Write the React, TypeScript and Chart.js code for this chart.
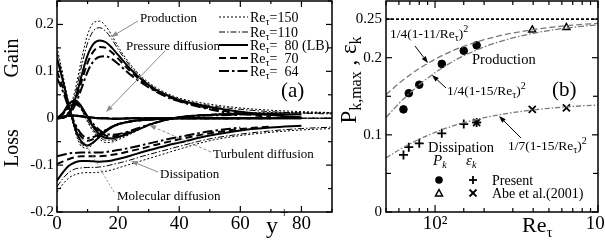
import React, { useEffect, useRef } from "react";
import { Chart, registerables } from "chart.js";

Chart.register(...registerables);

const SERIF = '"Liberation Serif", "Times New Roman", Times, serif';

// ================= Panel (a): TKE budget vs y+ =================
const yPlus = [0, 2, 4, 6, 8, 10, 12, 14, 16, 18, 20, 24, 28, 32, 36, 40, 50, 60, 70, 80, 90];
const reTauCases = ["150", "110", "80", "70", "64"];

const production150 = [0, 0.002, 0.018, 0.062, 0.125, 0.178, 0.204, 0.207, 0.196, 0.176, 0.153, 0.115, 0.087, 0.067, 0.053, 0.043, 0.03, 0.022, 0.017, 0.014, 0.012];
const production110 = [0, 0.002, 0.015, 0.053, 0.11, 0.16, 0.187, 0.193, 0.185, 0.168, 0.147, 0.111, 0.084, 0.064, 0.05, 0.04, 0.027, 0.019, 0.014, 0.011, 0.009];
const production80 = [0, 0.001, 0.012, 0.042, 0.09, 0.134, 0.159, 0.166, 0.162, 0.15, 0.135, 0.105, 0.081, 0.062, 0.049, 0.039, 0.024, 0.014, 0.007, 0.002];
const production70 = [0, 0.001, 0.01, 0.036, 0.078, 0.118, 0.143, 0.152, 0.15, 0.14, 0.127, 0.1, 0.078, 0.06, 0.047, 0.037, 0.021, 0.01, 0.002];
const production64 = [0, 0.001, 0.008, 0.029, 0.063, 0.099, 0.122, 0.131, 0.132, 0.126, 0.116, 0.093, 0.074, 0.058, 0.045, 0.036, 0.019, 0.006];

const dissipation150 = [-0.158, -0.14, -0.127, -0.12, -0.117, -0.116, -0.116, -0.115, -0.113, -0.11, -0.106, -0.098, -0.09, -0.082, -0.074, -0.066, -0.048, -0.037, -0.03, -0.025, -0.022];
const dissipation110 = [-0.146, -0.128, -0.115, -0.108, -0.106, -0.105, -0.105, -0.104, -0.102, -0.099, -0.096, -0.089, -0.081, -0.074, -0.067, -0.06, -0.044, -0.034, -0.027, -0.022, -0.019];
const dissipation80 = [-0.133, -0.115, -0.101, -0.094, -0.091, -0.091, -0.092, -0.093, -0.092, -0.09, -0.087, -0.08, -0.072, -0.065, -0.058, -0.052, -0.037, -0.026, -0.02, -0.016];
const dissipation70 = [-0.098, -0.092, -0.087, -0.083, -0.081, -0.081, -0.081, -0.081, -0.08, -0.078, -0.076, -0.07, -0.064, -0.057, -0.051, -0.045, -0.032, -0.023, -0.018];
const dissipation64 = [-0.081, -0.078, -0.075, -0.074, -0.073, -0.073, -0.073, -0.073, -0.072, -0.07, -0.068, -0.063, -0.057, -0.051, -0.045, -0.04, -0.028, -0.02];

const molecular150 = [0.152, 0.09, 0.025, -0.03, -0.06, -0.064, -0.052, -0.037, -0.025, -0.017, -0.012, -0.006, -0.003, -0.002, -0.001, 0, 0, 0, 0, 0, 0];
const molecular110 = [0.14, 0.084, 0.024, -0.027, -0.055, -0.06, -0.05, -0.037, -0.026, -0.018, -0.012, -0.006, -0.003, -0.002, -0.001, 0, 0, 0, 0, 0, 0];
const molecular80 = [0.128, 0.078, 0.024, -0.022, -0.05, -0.058, -0.051, -0.039, -0.028, -0.019, -0.013, -0.007, -0.004, -0.002, -0.001, 0, 0, 0, 0, 0];
const molecular70 = [0.1, 0.064, 0.021, -0.017, -0.04, -0.048, -0.044, -0.035, -0.026, -0.019, -0.013, -0.007, -0.004, -0.002, -0.001, 0, 0, 0, 0];
const molecular64 = [0.086, 0.056, 0.019, -0.013, -0.034, -0.042, -0.04, -0.033, -0.025, -0.018, -0.013, -0.007, -0.004, -0.002, -0.001, 0, 0, 0];

const turbulent150 = [0, 0.012, 0.032, 0.035, 0.018, -0.008, -0.03, -0.045, -0.052, -0.051, -0.046, -0.034, -0.021, -0.01, -0.003, 0.002, 0.008, 0.011, 0.012, 0.012, 0.012];
const turbulent110 = [0, 0.011, 0.03, 0.033, 0.018, -0.005, -0.026, -0.04, -0.047, -0.047, -0.043, -0.032, -0.02, -0.01, -0.003, 0.002, 0.008, 0.01, 0.011, 0.011, 0.011];
const turbulent80 = [0, 0.012, 0.032, 0.038, 0.025, 0.002, -0.02, -0.035, -0.042, -0.043, -0.04, -0.031, -0.02, -0.01, -0.003, 0.002, 0.007, 0.009, 0.009, 0.008];
const turbulent70 = [0, 0.01, 0.028, 0.033, 0.022, 0.003, -0.016, -0.03, -0.037, -0.039, -0.037, -0.029, -0.019, -0.01, -0.003, 0.002, 0.007, 0.008, 0.008];
const turbulent64 = [0, 0.009, 0.025, 0.03, 0.021, 0.004, -0.013, -0.026, -0.033, -0.035, -0.034, -0.027, -0.018, -0.01, -0.003, 0.002, 0.006, 0.007];

const pressure150 = [0, 0.004, 0.007, 0.007, 0.005, 0.003, 0.001, 0, -0.001, -0.001, -0.001, -0.001, 0, 0, 0, 0, 0, 0, 0, 0, 0];
const pressure110 = [0, 0.004, 0.006, 0.006, 0.005, 0.003, 0.001, 0, -0.001, -0.001, -0.001, -0.001, 0, 0, 0, 0, 0, 0, 0, 0, 0];
const pressure80 = [0, 0.003, 0.006, 0.006, 0.004, 0.002, 0.001, 0, 0, -0.001, -0.001, 0, 0, 0, 0, 0, 0, 0, 0, 0];
const pressure70 = [0, 0.003, 0.005, 0.005, 0.004, 0.002, 0.001, 0, 0, -0.001, -0.001, 0, 0, 0, 0, 0, 0, 0, 0];
const pressure64 = [0, 0.003, 0.005, 0.005, 0.004, 0.002, 0.001, 0, 0, -0.001, -0.001, 0, 0, 0, 0, 0, 0, 0];

// ================= Panel (b): peak production / dissipation vs Re_tau =================
const rePresent = [64, 69, 80, 110, 150, 180];
const pkPresent = [0.133, 0.154, 0.165, 0.192, 0.209, 0.216];
const ekPresent = [0.074, 0.084, 0.089, 0.102, 0.114, 0.116];
const reAbeP = [395, 640];
const pkAbe = [0.236, 0.239];
const reAbeE = [180, 395, 640];
const ekAbe = [0.116, 0.133, 0.135];
const reFit = [50, 60, 70, 80, 100, 120, 150, 200, 250, 300, 400, 500, 600, 700, 800, 1000];
const fitP11 = [0.1521, 0.1667, 0.1776, 0.186, 0.198, 0.2063, 0.2147, 0.2233, 0.2285, 0.232, 0.2364, 0.2391, 0.2409, 0.2422, 0.2432, 0.2445];
const fitP15 = [0.1225, 0.1406, 0.1543, 0.165, 0.1806, 0.1914, 0.2025, 0.2139, 0.2209, 0.2256, 0.2316, 0.2352, 0.2377, 0.2394, 0.2407, 0.2426];
const fitE15 = [0.07, 0.0804, 0.0882, 0.0943, 0.1032, 0.1094, 0.1157, 0.1222, 0.1262, 0.1289, 0.1323, 0.1344, 0.1358, 0.1368, 0.1376, 0.1386];
const reLimit = [50, 1000];
const pkLimit = [0.25, 0.25];

// ---------------- styles ----------------
const caseStyles = [
  { width: 1, dash: [2, 2] },
  { width: 1, dash: [6, 2, 1.5, 2] },
  { width: 2, dash: [] as number[] },
  { width: 2, dash: [7, 4] },
  { width: 2, dash: [10, 3, 2.5, 3] },
];

type Seg = { t: string; s: number; dy?: number; it?: boolean };
const fontOf = (s: Seg) => `${s.it ? "italic " : ""}${s.s}px ${SERIF}`;

function segsWidth(ctx: CanvasRenderingContext2D, segs: Seg[]) {
  let w = 0;
  for (const s of segs) {
    ctx.font = fontOf(s);
    w += ctx.measureText(s.t).width;
  }
  return w;
}
function drawSegs(ctx: CanvasRenderingContext2D, segs: Seg[], x: number, y: number, align: "left" | "center" = "left") {
  ctx.textAlign = "left";
  ctx.textBaseline = "alphabetic";
  let cx = align === "center" ? x - segsWidth(ctx, segs) / 2 : x;
  for (const s of segs) {
    ctx.font = fontOf(s);
    ctx.fillText(s.t, cx, y + (s.dy || 0));
    cx += ctx.measureText(s.t).width;
  }
}
function arrow(
  ctx: CanvasRenderingContext2D,
  x1: number, y1: number, x2: number, y2: number,
  color: string, o: { dash?: number[]; head?: boolean; width?: number; hl?: number; hw?: number } = {}
) {
  ctx.save();
  ctx.strokeStyle = color;
  ctx.fillStyle = color;
  ctx.lineWidth = o.width ?? 1;
  ctx.setLineDash(o.dash ?? []);
  const ang = Math.atan2(y2 - y1, x2 - x1);
  const hl = o.hl ?? 7, hw = o.hw ?? 2.5;
  const head = o.head !== false;
  const bx = x2 - hl * Math.cos(ang), by = y2 - hl * Math.sin(ang);
  ctx.beginPath();
  ctx.moveTo(x1, y1);
  ctx.lineTo(head ? bx : x2, head ? by : y2);
  ctx.stroke();
  if (head) {
    ctx.setLineDash([]);
    ctx.beginPath();
    ctx.moveTo(x2, y2);
    ctx.lineTo(bx + hw * Math.sin(ang), by - hw * Math.cos(ang));
    ctx.lineTo(bx - hw * Math.sin(ang), by + hw * Math.cos(ang));
    ctx.closePath();
    ctx.fill();
  }
  ctx.restore();
}
function seg(ctx: CanvasRenderingContext2D, x1: number, y1: number, x2: number, y2: number) {
  ctx.beginPath();
  ctx.moveTo(x1, y1);
  ctx.lineTo(x2, y2);
  ctx.stroke();
}

// page -> canvas offsets
const A_OFF = { x: 0, y: -20 };
const B_OFF = { x: 330, y: -20 };

const panelAPlugin = {
  id: "panelA",
  afterDraw(chart: any) {
    const { ctx, chartArea: a } = chart;
    const xs = chart.scales.x, ys = chart.scales.y;
    const X = (p: number) => p - A_OFF.x, Y = (p: number) => p - A_OFF.y;
    ctx.save();
    ctx.setLineDash([]);
    ctx.strokeStyle = "#000";
    ctx.lineWidth = 1.5;
    ctx.strokeRect(a.left, a.top, a.right - a.left, a.bottom - a.top);
    ctx.lineWidth = 1.2;
    for (const t of xs.ticks) {
      const major = Math.round(t.value) % 20 === 0;
      const L = major ? 6 : 3;
      const p = xs.getPixelForValue(t.value);
      seg(ctx, p, a.bottom, p, a.bottom - L);
      seg(ctx, p, a.top, p, a.top + L);
    }
    for (const t of ys.ticks) {
      const r = Math.round(t.value * 100);
      const L = r % 10 === 0 ? 6 : 4;
      const p = ys.getPixelForValue(t.value);
      seg(ctx, a.left, p, a.left + L, p);
      seg(ctx, a.right, p, a.right - L, p);
    }
    ctx.fillStyle = "#000";
    // axis titles
    for (const [txt, cy] of [["Gain", 58], ["Loss", 148]] as [string, number][]) {
      ctx.save();
      ctx.translate(X(18), Y(cy));
      ctx.rotate(-Math.PI / 2);
      drawSegs(ctx, [{ t: txt, s: 20 }], 0, 0, "center");
      ctx.restore();
    }
    drawSegs(ctx, [{ t: "y", s: 24 }], X(266), Y(233));
    drawSegs(ctx, [{ t: "+", s: 15 }], X(280), Y(217));
    // legend
    const rows = [17, 32, 45, 58, 71];
    const vals = ["=150", "=110", "=  80 (LB)", "=  70", "=  64"];
    rows.forEach((ry, i) => {
      ctx.save();
      ctx.strokeStyle = "#000";
      ctx.lineWidth = caseStyles[i].width;
      ctx.setLineDash(caseStyles[i].dash);
      seg(ctx, X(219), Y(ry), X(248), Y(ry));
      ctx.restore();
      drawSegs(ctx, [{ t: "Re", s: 14 }, { t: "τ", s: 10, dy: 3 }, { t: vals[i], s: 14 }], X(250), Y(ry + 4.5));
    });
    drawSegs(ctx, [{ t: "(a)", s: 21 }], X(281), Y(97));
    // annotations
    const g = "#8c8c8c";
    drawSegs(ctx, [{ t: "Production", s: 13 }], X(140), Y(21.5));
    arrow(ctx, X(138), Y(21), X(111), Y(37), g);
    drawSegs(ctx, [{ t: "Pressure diffusion", s: 13 }], X(126), Y(49.5));
    arrow(ctx, X(165), Y(51), X(106), Y(112), g);
    drawSegs(ctx, [{ t: "Turbulent diffusion", s: 13 }], X(213), Y(157.5));
    arrow(ctx, X(211), Y(152), X(149), Y(125), g, { dash: [3, 2] });
    drawSegs(ctx, [{ t: "Dissipation", s: 13 }], X(160), Y(177.5));
    arrow(ctx, X(158), Y(172), X(131), Y(161), g);
    drawSegs(ctx, [{ t: "Molecular diffusion", s: 13 }], X(117), Y(199.5));
    arrow(ctx, X(114), Y(192), X(82), Y(138), g, { dash: [2, 2], head: false });
    ctx.restore();
  },
};

const panelBPlugin = {
  id: "panelB",
  afterDraw(chart: any) {
    const { ctx, chartArea: a } = chart;
    const xs = chart.scales.x, ys = chart.scales.y;
    const X = (p: number) => p - B_OFF.x, Y = (p: number) => p - B_OFF.y;
    ctx.save();
    ctx.setLineDash([]);
    ctx.strokeStyle = "#000";
    ctx.lineWidth = 1.5;
    ctx.strokeRect(a.left, a.top, a.right - a.left, a.bottom - a.top);
    ctx.lineWidth = 1.2;
    for (const t of xs.ticks) {
      const v = t.value;
      const major = v === 100 || v === 1000;
      const L = major ? 7 : 4;
      const p = xs.getPixelForValue(v);
      seg(ctx, p, a.bottom, p, a.bottom - L);
      seg(ctx, p, a.top, p, a.top + L);
    }
    for (const t of ys.ticks) {
      const r = Math.round(t.value * 1000);
      if (r % 50 !== 0) continue;
      const L = r % 100 === 0 || r === 250 ? 6 : 5;
      const p = ys.getPixelForValue(t.value);
      seg(ctx, a.left, p, a.left + L, p);
      seg(ctx, a.right, p, a.right - L, p);
    }
    ctx.fillStyle = "#000";
    // y title
    ctx.save();
    ctx.translate(X(356), Y(80));
    ctx.rotate(-Math.PI / 2);
    drawSegs(ctx, [
      { t: "P", s: 23 }, { t: "k,max", s: 16, dy: 5 }, { t: " , ", s: 23 }, { t: "ε", s: 23 }, { t: "k", s: 16, dy: 5 },
    ], 0, 0, "center");
    ctx.restore();
    // x title
    drawSegs(ctx, [{ t: "Re", s: 22 }, { t: "τ", s: 15, dy: 5 }], X(522), Y(232));
    // annotations
    drawSegs(ctx, [{ t: "1/4(1-11/Re", s: 13.5 }, { t: "τ", s: 10, dy: 3 }, { t: ")", s: 13.5 }, { t: "2", s: 10, dy: -6 }], X(390), Y(38));
    arrow(ctx, X(415), Y(46), X(428), Y(63), "#000", { hl: 7, hw: 2.5 });
    drawSegs(ctx, [{ t: "1/4(1-15/Re", s: 13.5 }, { t: "τ", s: 10, dy: 3 }, { t: ")", s: 13.5 }, { t: "2", s: 10, dy: -6 }], X(447), Y(95));
    arrow(ctx, X(446), Y(88), X(432), Y(75), "#000", { hl: 7, hw: 2.5 });
    drawSegs(ctx, [{ t: "1/7(1-15/Re", s: 13.5 }, { t: "τ", s: 10, dy: 3 }, { t: ")", s: 13.5 }, { t: "2", s: 10, dy: -6 }], X(508), Y(150));
    arrow(ctx, X(521), Y(138), X(499), Y(116), "#000", { hl: 7, hw: 2.5 });
    drawSegs(ctx, [{ t: "Production", s: 14.5 }], X(472), Y(64));
    drawSegs(ctx, [{ t: "Dissipation", s: 14.5 }], X(428), Y(152));
    drawSegs(ctx, [{ t: "(b)", s: 21 }], X(552), Y(96));
    // legend
    drawSegs(ctx, [{ t: "P", s: 15, it: true }, { t: "k", s: 10, dy: 3, it: true }], X(433), Y(165));
    drawSegs(ctx, [{ t: "ε", s: 15, it: true }, { t: "k", s: 10, dy: 3, it: true }], X(466), Y(165));
    // markers
    ctx.beginPath();
    ctx.arc(X(439), Y(180), 3.8, 0, Math.PI * 2);
    ctx.fill();
    ctx.lineWidth = 1.8;
    seg(ctx, X(469), Y(180), X(477), Y(180));
    seg(ctx, X(473), Y(176), X(473), Y(184));
    seg(ctx, X(469.5), Y(189.5), X(476.5), Y(196.5));
    seg(ctx, X(476.5), Y(189.5), X(469.5), Y(196.5));
    ctx.lineWidth = 1.5;
    ctx.beginPath();
    ctx.moveTo(X(439), Y(189.5));
    ctx.lineTo(X(442.5), Y(196));
    ctx.lineTo(X(435.5), Y(196));
    ctx.closePath();
    ctx.stroke();
    drawSegs(ctx, [{ t: "Present", s: 14 }], X(492), Y(185));
    drawSegs(ctx, [{ t: "Abe et al.(2001)", s: 14 }], X(492), Y(198));
    ctx.restore();
  },
};

const pts = (xs: number[], ys: number[]) => ys.map((v, i) => ({ x: xs[i], y: v }));

function buildConfigA(): any {
  const groups = [
    [production150, production110, production80, production70, production64],
    [dissipation150, dissipation110, dissipation80, dissipation70, dissipation64],
    [molecular150, molecular110, molecular80, molecular70, molecular64],
    [turbulent150, turbulent110, turbulent80, turbulent70, turbulent64],
    [pressure150, pressure110, pressure80, pressure70, pressure64],
  ];
  const names = ["Production", "Dissipation", "Molecular diffusion", "Turbulent diffusion", "Pressure diffusion"];
  const datasets: any[] = [];
  groups.forEach((grp, gi) => {
    grp.forEach((vals, ci) => {
      datasets.push({
        label: `${names[gi]} Re_tau=${reTauCases[ci]}`,
        data: pts(yPlus, vals),
        borderColor: "#000",
        borderWidth: caseStyles[ci].width,
        borderDash: caseStyles[ci].dash,
        pointRadius: 0,
        fill: false,
        cubicInterpolationMode: "monotone",
      });
    });
  });
  return {
    type: "line",
    data: { datasets },
    options: {
      responsive: false,
      animation: false,
      devicePixelRatio: 1,
      events: [],
      layout: { padding: { top: 21, right: 28, bottom: 0, left: 0 } },
      plugins: { legend: { display: false }, tooltip: { enabled: false } },
      scales: {
        x: {
          type: "linear",
          min: 0,
          max: 90,
          grid: { display: false, drawTicks: false },
          border: { display: false },
          ticks: {
            stepSize: 10,
            autoSkip: false,
            maxRotation: 0,
            padding: 1,
            color: "#000",
            font: { family: SERIF, size: 19 },
            callback: (v: number) => (Math.round(v) % 20 === 0 && v <= 80 ? String(v) : ""),
          },
          afterFit: (s: any) => { s.height = 36; },
        },
        y: {
          type: "linear",
          min: -0.2,
          max: 0.25,
          grid: { display: false, drawTicks: false },
          border: { display: false },
          ticks: {
            stepSize: 0.05,
            autoSkip: false,
            padding: 3,
            color: "#000",
            font: { family: SERIF, size: 15 },
            callback: (v: number) => {
              const r = Math.round(v * 100);
              if (r % 10 !== 0) return "";
              return r === 0 ? "0" : String(r / 100);
            },
          },
          afterFit: (s: any) => { s.width = 57; },
        },
      },
    },
    plugins: [panelAPlugin],
  };
}

function buildConfigB(): any {
  const curve = (xs: number[], ys: number[], dash: number[], color: string, width: number) => ({
    data: pts(xs, ys),
    borderColor: color,
    borderWidth: width,
    borderDash: dash,
    pointRadius: 0,
    fill: false,
    cubicInterpolationMode: "monotone",
  });
  const marks = (xs: number[], ys: number[], style: string, r: number, fillC: string, bw: number) => ({
    data: pts(xs, ys),
    showLine: false,
    pointStyle: style,
    pointRadius: r,
    pointBackgroundColor: fillC,
    pointBorderColor: "#000",
    pointBorderWidth: bw,
  });
  return {
    type: "line",
    data: {
      datasets: [
        { label: "limit 0.25", ...curve(reLimit, pkLimit, [3, 2], "#000", 1.6) },
        { label: "1/4(1-11/Re)^2", ...curve(reFit, fitP11, [6, 3], "#777", 1.3) },
        { label: "1/4(1-15/Re)^2", ...curve(reFit, fitP15, [6, 2, 1.5, 2], "#777", 1.3) },
        { label: "1/7(1-15/Re)^2", ...curve(reFit, fitE15, [5, 2, 1.5, 2], "#777", 1.3) },
        { label: "Pk present", ...marks(rePresent, pkPresent, "circle", 3.8, "#000", 1) },
        { label: "ek present", ...marks(rePresent, ekPresent, "cross", 4.5, "#000", 1.8) },
        { label: "Pk Abe", ...marks(reAbeP, pkAbe, "triangle", 4, "#fff", 1.5) },
        { label: "ek Abe", ...marks(reAbeE, ekAbe, "crossRot", 5, "#000", 1.8) },
      ],
    },
    options: {
      responsive: false,
      animation: false,
      devicePixelRatio: 1,
      events: [],
      layout: { padding: { top: 21, right: 22, bottom: 0, left: 0 } },
      plugins: { legend: { display: false }, tooltip: { enabled: false } },
      scales: {
        x: {
          type: "logarithmic",
          min: 50,
          max: 1000,
          grid: { display: false, drawTicks: false },
          border: { display: false },
          ticks: {
            autoSkip: false,
            maxRotation: 0,
            padding: 1,
            color: "#000",
            font: { family: SERIF, size: 19 },
            callback: (v: number) => (v === 100 ? "10²" : v === 1000 ? "10³" : ""),
          },
          afterFit: (s: any) => { s.height = 36; },
        },
        y: {
          type: "linear",
          min: 0,
          max: 0.2735,
          grid: { display: false, drawTicks: false },
          border: { display: false },
          ticks: {
            stepSize: 0.05,
            autoSkip: false,
            padding: 4,
            color: "#000",
            font: { family: SERIF, size: 15 },
            callback: (v: number) => {
              const r = Math.round(v * 1000);
              if (r === 0) return "0";
              if (r === 100) return "0.1";
              if (r === 200) return "0.2";
              if (r === 250) return "0.25";
              return "";
            },
          },
          afterFit: (s: any) => { s.width = 56; },
        },
      },
    },
    plugins: [panelBPlugin],
  };
}

export default function App() {
  const leftRef = useRef<HTMLCanvasElement>(null);
  const rightRef = useRef<HTMLCanvasElement>(null);
  useEffect(() => {
    const c1 = new Chart(leftRef.current as HTMLCanvasElement, buildConfigA());
    const c2 = new Chart(rightRef.current as HTMLCanvasElement, buildConfigB());
    return () => {
      c1.destroy();
      c2.destroy();
    };
  }, []);
  return (
    <div style={{ position: "fixed", left: 0, top: 0, width: 605, height: 248, overflow: "hidden", background: "#fff" }}>
      <canvas ref={leftRef} width={360} height={268} style={{ position: "absolute", left: 0, top: -20, width: 360, height: 268 }} />
      <canvas ref={rightRef} width={290} height={268} style={{ position: "absolute", left: 330, top: -20, width: 290, height: 268 }} />
    </div>
  );
}
